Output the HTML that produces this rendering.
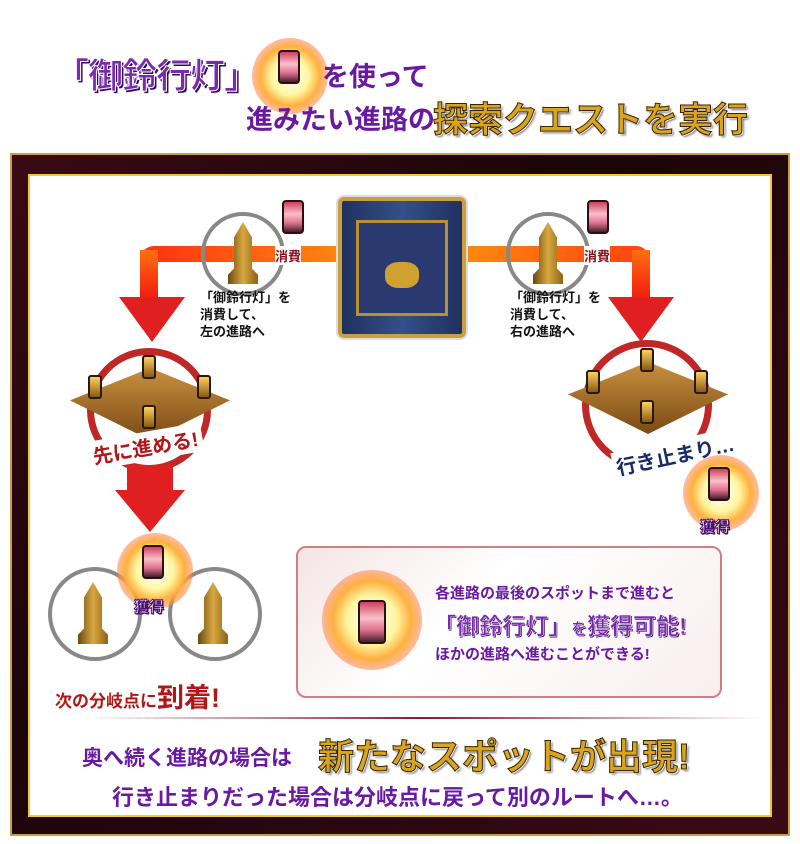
<!DOCTYPE html>
<html><head><meta charset="utf-8">
<style>
*{margin:0;padding:0;box-sizing:border-box}
body{width:800px;height:844px;background:#fff;position:relative;overflow:hidden;font-family:"Liberation Sans","Noto Sans CJK JP",sans-serif}
.a{position:absolute;white-space:nowrap}
.p{color:#6a1aa0;font-weight:bold}
.gold{color:#d9a520;font-weight:bold;-webkit-text-stroke:1px #3a2300;text-shadow:1px 1px 0 #fff,2px 2px 2px #777}
.circ{position:absolute;border-radius:50%}
.glow{position:absolute;border-radius:50%;background:radial-gradient(circle,#fff 0%,#fff6a0 35%,#ffb040 55%,rgba(255,120,60,.5) 70%,rgba(255,255,255,0) 78%)}
.lan{position:absolute;width:22px;height:34px;background:linear-gradient(#d04060,#f8c0c8 40%,#e07090 70%,#402028);border:2px solid #2a1010;border-radius:4px}
.lamp{position:absolute;width:30px;height:62px;background:linear-gradient(90deg,#6a4a10,#d8a840,#8a6418);clip-path:polygon(50% 0,80% 25%,80% 75%,100% 85%,100% 100%,0 100%,0 85%,20% 75%,20% 25%)}
.plat{position:absolute;width:160px;height:72px;background:linear-gradient(#c89040,#7a4a14);clip-path:polygon(0 45%,50% 0,100% 45%,50% 100%)}
.pl{position:absolute;width:14px;height:24px;background:linear-gradient(#ffd060,#8a5a10);border:2px solid #2a1808;border-radius:3px}
.get{font-size:15px;font-weight:bold;color:#fff;-webkit-text-stroke:1px #4a1070;text-shadow:1px 1px 0 #4a1070}
</style></head><body>
<!-- title -->
<div class="a p" style="left:54px;top:48px;font-size:35px;color:#7a2ab0;-webkit-text-stroke:1px #fff;text-shadow:2px 2px 0 #3a0a5a;letter-spacing:-1px">「御鈴行灯」</div>
<div class="glow" style="left:252px;top:38px;width:76px;height:76px"></div>
<div class="lan" style="left:278px;top:50px"></div>
<div class="a p" style="left:322px;top:55px;font-size:27px">を使って</div>
<div class="a p" style="left:246px;top:98px;font-size:27px">進みたい進路の</div>
<div class="a gold" style="left:433px;top:92px;font-size:35px">探索クエストを実行</div>

<!-- frame -->
<div class="a" style="left:10px;top:153px;width:780px;height:683px;background:linear-gradient(135deg,#3a0a14,#1a0508 40%,#2a0810 70%,#3a0a14);border:2px solid #c8a040"></div>
<div class="a" style="left:28px;top:174px;width:744px;height:643px;background:#fff;border:2px solid #f0c830"></div>

<!-- connectors -->
<div class="a" style="left:140px;top:246px;width:210px;height:16px;background:linear-gradient(90deg,#ff3010,#ff8a10);border-radius:14px 0 0 0"></div>
<div class="a" style="left:140px;top:250px;width:18px;height:55px;background:linear-gradient(#ff7010,#f01010)"></div>
<div class="a" style="left:119px;top:297px;width:0;height:0;border-left:33px solid transparent;border-right:33px solid transparent;border-top:45px solid #e02020"></div>
<div class="a" style="left:460px;top:246px;width:190px;height:16px;background:linear-gradient(90deg,#ff8a10,#ff4010);border-radius:0 14px 0 0"></div>
<div class="a" style="left:632px;top:250px;width:18px;height:55px;background:linear-gradient(#ff7010,#f01010)"></div>
<div class="a" style="left:608px;top:297px;width:0;height:0;border-left:33px solid transparent;border-right:33px solid transparent;border-top:45px solid #e02020"></div>

<!-- gate -->
<div class="a" style="left:338px;top:197px;width:128px;height:141px;border-radius:6px;background:linear-gradient(90deg,#203060,#34508a 50%,#203060);border:4px solid #c8a040;box-shadow:0 0 0 2px #ddd"></div>
<div class="a" style="left:356px;top:220px;width:92px;height:96px;border:3px solid #b89030;background:#2a3a70"></div>
<div class="a" style="left:385px;top:262px;width:34px;height:26px;background:#d0a030;border-radius:40%"></div>

<!-- left branch -->
<div class="circ" style="left:201px;top:212px;width:84px;height:84px;border:4px solid #888"></div>
<div class="lamp" style="left:228px;top:222px"></div>
<div class="lan" style="left:282px;top:200px"></div>
<div class="a" style="left:275px;top:246px;font-size:13px;font-weight:bold;color:#8a1020;background:#fff">消費</div>
<div class="a" style="left:200px;top:289px;font-size:13px;line-height:17px;color:#111;font-weight:bold">「御鈴行灯」を<br>消費して、<br>左の進路へ</div>
<!-- right branch -->
<div class="circ" style="left:506px;top:212px;width:84px;height:84px;border:4px solid #888"></div>
<div class="lamp" style="left:533px;top:222px"></div>
<div class="lan" style="left:587px;top:200px"></div>
<div class="a" style="left:584px;top:246px;font-size:13px;font-weight:bold;color:#8a1020;background:#fff">消費</div>
<div class="a" style="left:510px;top:289px;font-size:13px;line-height:17px;color:#111;font-weight:bold">「御鈴行灯」を<br>消費して、<br>右の進路へ</div>

<!-- left platform -->
<div class="circ" style="left:87px;top:348px;width:124px;height:124px;border:7px solid #c02828"></div>
<div class="plat" style="left:70px;top:368px"></div>
<div class="pl" style="left:142px;top:355px"></div><div class="pl" style="left:88px;top:375px"></div><div class="pl" style="left:197px;top:375px"></div><div class="pl" style="left:142px;top:405px"></div>
<div class="a" style="left:88px;top:432px;font-size:20px;font-weight:bold;color:#b01818;background:#fff;padding:0 4px;transform:rotate(-10deg)">先に進める!</div>
<div class="a" style="left:127px;top:465px;width:46px;height:30px;background:#e02020"></div>
<div class="a" style="left:115px;top:490px;width:0;height:0;border-left:35px solid transparent;border-right:35px solid transparent;border-top:42px solid #e02020"></div>

<!-- right platform -->
<div class="circ" style="left:582px;top:340px;width:130px;height:130px;border:7px solid #c02828"></div>
<div class="plat" style="left:568px;top:362px"></div>
<div class="pl" style="left:640px;top:348px"></div><div class="pl" style="left:586px;top:370px"></div><div class="pl" style="left:694px;top:370px"></div><div class="pl" style="left:640px;top:400px"></div>
<div class="a" style="left:612px;top:440px;font-size:20px;font-weight:bold;color:#1a2a6a;background:#fff;padding:0 3px;transform:rotate(-12deg)">行き止まり…</div>
<div class="glow" style="left:683px;top:455px;width:76px;height:76px"></div>
<div class="lan" style="left:708px;top:467px"></div>
<div class="a get" style="left:700px;top:516px">獲得</div>

<!-- bottom left -->
<div class="circ" style="left:48px;top:567px;width:94px;height:94px;border:4px solid #888"></div>
<div class="circ" style="left:168px;top:567px;width:94px;height:94px;border:4px solid #888"></div>
<div class="lamp" style="left:78px;top:582px"></div>
<div class="lamp" style="left:198px;top:582px"></div>
<div class="glow" style="left:117px;top:533px;width:76px;height:76px"></div>
<div class="lan" style="left:142px;top:545px"></div>
<div class="a get" style="left:134px;top:596px">獲得</div>
<div class="a" style="left:55px;top:676px;font-size:17px;font-weight:bold;color:#b01818">次の分岐点に<span style="font-size:27px">到着!</span></div>

<!-- info box -->
<div class="a" style="left:296px;top:546px;width:426px;height:152px;border-radius:10px;border:2px solid #d08080;background:linear-gradient(135deg,#f4e4e4,#fff 40%,#f8eeee)"></div>
<div class="glow" style="left:322px;top:570px;width:100px;height:100px"></div>
<div class="lan" style="left:358px;top:600px;width:28px;height:44px"></div>
<div class="a p" style="left:435px;top:582px;font-size:15px">各進路の最後のスポットまで進むと</div>
<div class="a p" style="left:433px;top:607px;font-size:23px;color:#7a2ab0;-webkit-text-stroke:.5px #fff;text-shadow:1px 1px 0 #3a0a5a">「御鈴行灯」<span style="font-size:16px">を</span>獲得可能!</div>
<div class="a p" style="left:435px;top:643px;font-size:15px">ほかの進路へ進むことができる!</div>

<!-- divider -->
<div class="a" style="left:85px;top:717px;width:675px;height:2px;background:linear-gradient(90deg,rgba(120,20,40,0),#8a1a30 50%,rgba(120,20,40,0))"></div>

<!-- bottom text -->
<div class="a p" style="left:82px;top:742px;font-size:21px">奥へ続く進路の場合は</div>
<div class="a gold" style="left:318px;top:728px;font-size:36px">新たなスポットが出現!</div>
<div class="a p" style="left:112px;top:780px;font-size:22px">行き止まりだった場合は分岐点に戻って別のルートへ…。</div>
</body></html>
